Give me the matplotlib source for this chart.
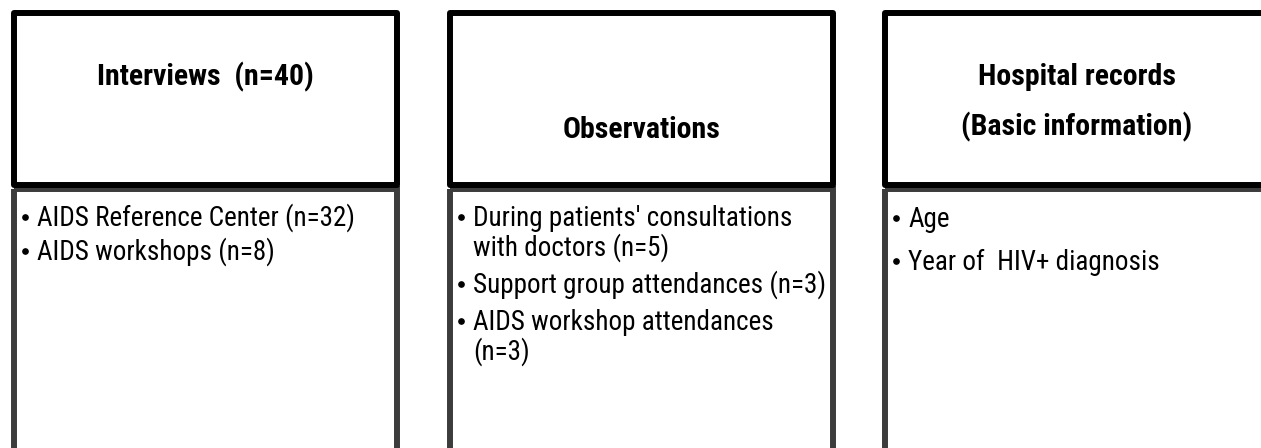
import matplotlib.pyplot as plt
from matplotlib import font_manager
from matplotlib.patches import Rectangle

# content of the three boxes
headers = ["Interviews  (n=40)", "Observations", "Hospital records\n(Basic information)"]
items = [
    ["AIDS Reference Center (n=32)", "AIDS workshops (n=8)"],
    ["During patients' consultations\nwith doctors (n=5)",
     "Support group attendances (n=3)",
     "AIDS workshop attendances\n(n=3)"],
    ["Age", "Year of  HIV+ diagnosis"],
]

# layout in pixel units (y goes down)
box_left = [14, 450, 885]
box_w = 383
top_y = 13
head_bot = 185
low_top = 189
head_base = [85, 138, 85]
head_pitch = 50
first_base = [226, 226, 227]
item_pitch = [34, 37, 43]
wrap_pitch = 30

# pick a narrow sans if one is installed, else shrink Liberation Sans
installed = {f.name for f in font_manager.fontManager.ttflist}
narrow = [n for n in ['Liberation Sans Narrow', 'Arial Narrow', 'Roboto Condensed',
                      'Open Sans Condensed'] if n in installed]
if narrow:
    fam = [narrow[0], 'DejaVu Sans']
    body_fs, head_fs = 19.5, 21.5
else:
    fam = ['Liberation Sans', 'DejaVu Sans']
    body_fs, head_fs = 17, 18.5

fig = plt.figure(figsize=(12.61, 4.48), dpi=100)
ax = fig.add_axes([0, 0, 1, 1])
ax.set_xlim(0, 1261)
ax.set_ylim(448, 0)
ax.axis('off')

for i in range(3):
    x0 = box_left[i]
    # lower box (dithered grey border)
    ax.add_patch(Rectangle((x0, low_top), box_w, 300, fill=False,
                           ec='#3c3c3c', lw=4.3, joinstyle='miter'))
    # header box
    ax.add_patch(Rectangle((x0, top_y), box_w, head_bot - top_y, fc='white',
                           ec='black', lw=4.3, joinstyle='round'))

    cx = x0 + box_w / 2
    for k, line in enumerate(headers[i].split("\n")):
        ax.text(cx, head_base[i] + k * head_pitch, line, ha='center', va='baseline',
                fontsize=head_fs, fontweight='bold', family=fam)

    y = first_base[i]
    for item in items[i]:
        ax.plot(x0 + 11, y - 9, 'o', ms=3.8, color='black')
        for k, line in enumerate(item.split("\n")):
            ax.text(x0 + 23, y + k * wrap_pitch, line, ha='left', va='baseline',
                    fontsize=body_fs, family=fam)
        y += (len(item.split("\n")) - 1) * wrap_pitch + item_pitch[i]

fig.savefig("out.png", dpi=100)
